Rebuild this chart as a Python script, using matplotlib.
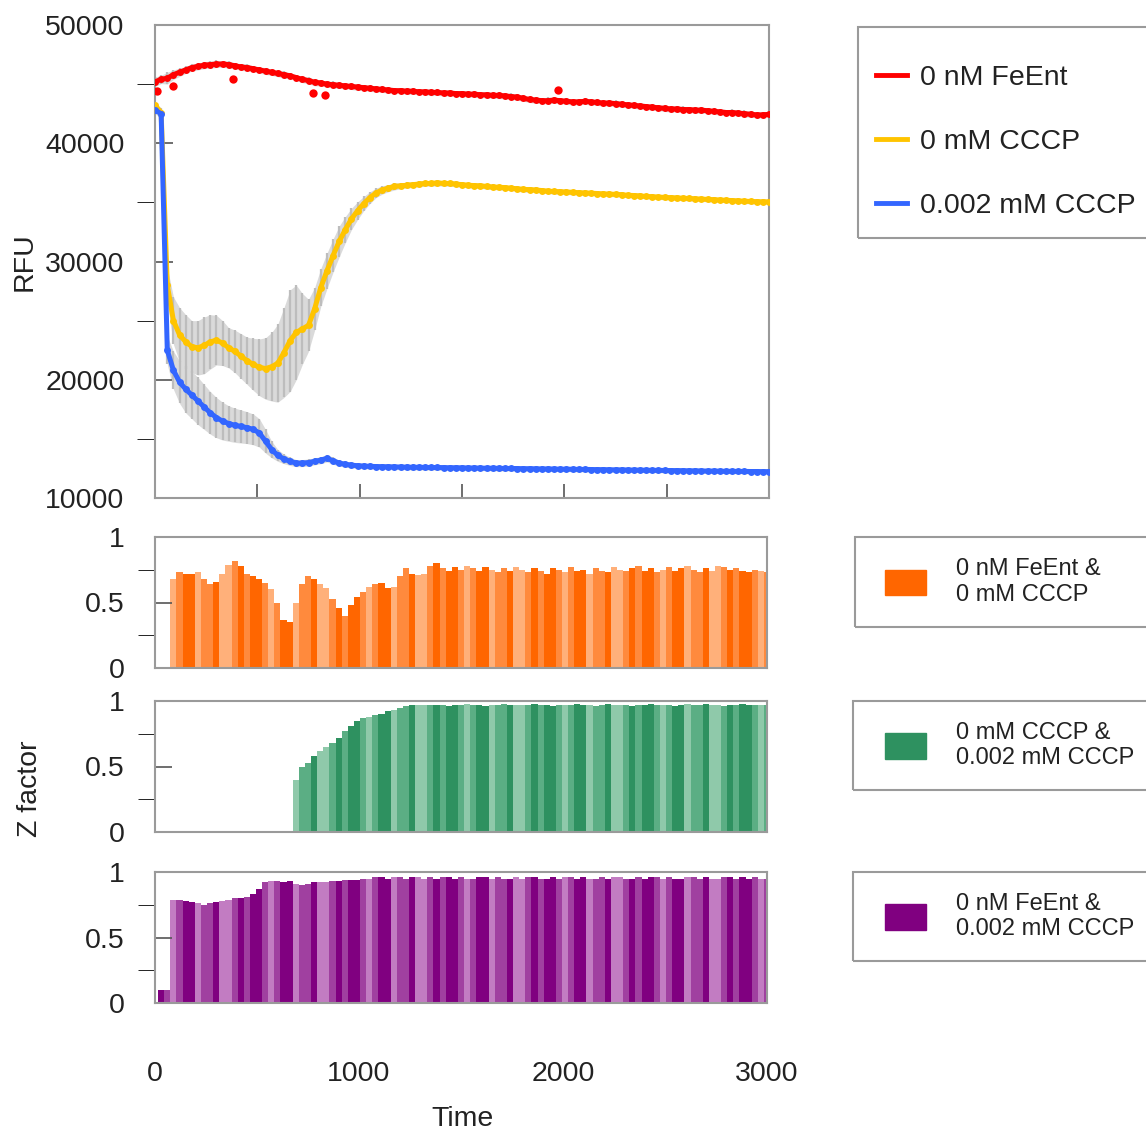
import numpy as np
import matplotlib
matplotlib.use("Agg")
import matplotlib.pyplot as plt
from matplotlib.lines import Line2D
from matplotlib.patches import Patch, Rectangle
from matplotlib.ticker import MultipleLocator

plt.rcParams['font.family'] = ['Liberation Sans', 'DejaVu Sans']

# sampling grid (s)
time = np.arange(0, 3001, 30)

# mean RFU per condition
rfu_feent0 = [45200, 45400, 45500, 45800, 46000, 46200, 46400, 46500, 46600, 46650,
              46700, 46700, 46650, 46550, 46450, 46400, 46300, 46200, 46100, 46000,
              45900, 45800, 45700, 45550, 45400, 45300, 45150, 45100, 45000, 44950,
              44900, 44850, 44800, 44750, 44700, 44650, 44600, 44550, 44500, 44450,
              44450, 44400, 44400, 44350, 44350, 44300, 44300, 44250, 44250, 44200,
              44200, 44150, 44150, 44100, 44100, 44050, 44050, 44000, 43950, 43900,
              43800, 43700, 43650, 43600, 43600, 43650, 43600, 43550, 43500, 43500,
              43550, 43500, 43450, 43400, 43400, 43350, 43300, 43250, 43200, 43150,
              43100, 43050, 43000, 42950, 42900, 42900, 42850, 42850, 42800, 42800,
              42750, 42700, 42650, 42600, 42600, 42550, 42500, 42450, 42400, 42400,
              42450]
rfu_cccp0 = [43200, 42600, 28000, 25000, 23800, 23200, 22800, 22700, 22900, 23200,
             23350, 23100, 22700, 22400, 22000, 21600, 21300, 21050, 20950, 21100,
             21400, 22300, 23300, 24000, 24300, 24600, 26000, 27800, 29200, 30500,
             31700, 32700, 33600, 34300, 34900, 35400, 35800, 36050, 36200, 36350,
             36400, 36450, 36500, 36550, 36600, 36600, 36650, 36600, 36600, 36550,
             36500, 36450, 36420, 36400, 36350, 36300, 36280, 36250, 36200, 36150,
             36100, 36080, 36050, 36000, 35950, 35920, 35900, 35880, 35850, 35820,
             35800, 35780, 35750, 35720, 35700, 35680, 35650, 35600, 35580, 35550,
             35500, 35480, 35450, 35420, 35400, 35380, 35350, 35330, 35300, 35280,
             35250, 35230, 35200, 35180, 35150, 35130, 35100, 35080, 35060, 35050,
             35050]
rfu_cccp2 = [42800, 42500, 22500, 20800, 19800, 19200, 18700, 18200, 17700, 17200,
             16800, 16500, 16300, 16150, 16050, 15950, 15800, 15500, 14800, 14100,
             13600, 13300, 13100, 12950, 12950, 13000, 13100, 13200, 13350, 13150,
             12950, 12850, 12780, 12730, 12700, 12680, 12660, 12650, 12640, 12630,
             12620, 12610, 12600, 12600, 12590, 12580, 12580, 12570, 12560, 12560,
             12550, 12540, 12540, 12530, 12520, 12520, 12510, 12500, 12500, 12490,
             12480, 12480, 12470, 12460, 12460, 12450, 12440, 12440, 12430, 12420,
             12420, 12410, 12400, 12400, 12390, 12380, 12380, 12370, 12360, 12360,
             12350, 12340, 12340, 12330, 12320, 12320, 12310, 12300, 12300, 12290,
             12280, 12280, 12270, 12260, 12260, 12250, 12250, 12240, 12240, 12230,
             12230]

# standard deviations
sd_feent0 = [400, 350, 500, 400, 350, 300, 300, 300, 300, 300,
             300, 280, 300, 260, 280, 300, 250, 270, 290, 260,
             280, 300, 260, 250, 280, 270, 300, 260, 250, 280,
             270, 250, 260, 280, 250, 270, 260, 250, 280, 260,
             250, 270, 260, 250, 260, 280, 250, 260, 270, 250,
             260, 250, 270, 260, 250, 260, 280, 250, 260, 270,
             250, 260, 270, 250, 280, 260, 250, 270, 260, 250,
             260, 270, 250, 260, 250, 270, 260, 250, 260, 270,
             250, 260, 250, 270, 260, 250, 260, 250, 270, 260,
             250, 260, 270, 250, 260, 250, 270, 260, 250, 260,
             250]
sd_cccp0 = [300, 400, 1500, 2000, 2300, 2300, 2200, 2300, 2400, 2300,
            2100, 1900, 1700, 1800, 1900, 2000, 2200, 2400, 2600, 2900,
            3300, 3800, 4300, 4000, 3000, 2200, 1800, 1600, 1500, 1400,
            1300, 1100, 900, 750, 600, 500, 400, 350, 300, 300,
            250, 250, 240, 250, 230, 240, 250, 230, 240, 230,
            220, 230, 240, 220, 230, 220, 230, 220, 210, 220,
            230, 220, 210, 220, 210, 220, 230, 210, 220, 210,
            220, 210, 200, 210, 220, 200, 210, 200, 210, 220,
            200, 210, 200, 210, 200, 220, 210, 200, 210, 200,
            210, 200, 210, 200, 210, 200, 200, 210, 200, 200,
            200]
sd_cccp2 = [300, 400, 1200, 1600, 1800, 2000, 2000, 2000, 1900, 1800,
            1700, 1600, 1500, 1450, 1400, 1350, 1300, 1200, 1000, 700,
            500, 400, 350, 300, 300, 300, 300, 300, 300, 300,
            250, 250, 240, 250, 230, 240, 250, 230, 240, 230,
            220, 230, 240, 220, 230, 220, 230, 220, 210, 220,
            230, 220, 210, 220, 210, 220, 230, 210, 220, 210,
            220, 210, 200, 210, 220, 200, 210, 200, 210, 220,
            200, 210, 200, 210, 200, 220, 210, 200, 210, 200,
            210, 200, 210, 200, 210, 200, 200, 210, 200, 200,
            200, 210, 200, 200, 210, 200, 200, 210, 200, 200,
            200]

# isolated outlying readings of the FeEnt control
out_t = [8, 89, 382, 772, 830, 1970]
out_v = [44400, 44800, 45400, 44250, 44100, 44500]

# Z factor for each pair of conditions
z_feent_cccp0 = [0, 0, 0, 0.68, 0.73, 0.72, 0.72, 0.73, 0.68, 0.64,
                 0.66, 0.72, 0.79, 0.82, 0.78, 0.72, 0.70, 0.68, 0.65, 0.60,
                 0.50, 0.37, 0.35, 0.50, 0.64, 0.70, 0.68, 0.64, 0.61, 0.53,
                 0.46, 0.40, 0.48, 0.54, 0.58, 0.62, 0.64, 0.65, 0.61, 0.62,
                 0.70, 0.76, 0.72, 0.71, 0.72, 0.78, 0.80, 0.76, 0.74, 0.77,
                 0.75, 0.78, 0.76, 0.74, 0.77, 0.75, 0.73, 0.76, 0.74, 0.77,
                 0.75, 0.73, 0.76, 0.74, 0.72, 0.76, 0.75, 0.73, 0.77, 0.74,
                 0.75, 0.72, 0.76, 0.74, 0.73, 0.77, 0.75, 0.74, 0.76, 0.78,
                 0.74, 0.76, 0.73, 0.75, 0.77, 0.74, 0.76, 0.78, 0.75, 0.73,
                 0.76, 0.74, 0.78, 0.77, 0.75, 0.76, 0.74, 0.73, 0.75, 0.74,
                 0.73]
z_cccp0_cccp2 = [0, 0, 0, 0, 0, 0, 0, 0, 0, 0,
                 0, 0, 0, 0, 0, 0, 0, 0, 0, 0,
                 0, 0, 0, 0.40, 0.50, 0.53, 0.58, 0.62, 0.65, 0.68,
                 0.72, 0.77, 0.81, 0.85, 0.87, 0.88, 0.89, 0.90, 0.92, 0.93,
                 0.95, 0.96, 0.97, 0.97, 0.97, 0.97, 0.97, 0.97, 0.96, 0.97,
                 0.97, 0.98, 0.97, 0.97, 0.96, 0.97, 0.97, 0.98, 0.97, 0.97,
                 0.97, 0.97, 0.98, 0.97, 0.97, 0.96, 0.97, 0.97, 0.97, 0.98,
                 0.97, 0.97, 0.96, 0.97, 0.98, 0.97, 0.97, 0.97, 0.96, 0.97,
                 0.97, 0.98, 0.97, 0.97, 0.97, 0.96, 0.97, 0.98, 0.97, 0.97,
                 0.98, 0.97, 0.97, 0.96, 0.97, 0.97, 0.98, 0.97, 0.97, 0.97,
                 0.97]
z_feent_cccp2 = [0, 0.10, 0.10, 0.79, 0.79, 0.78, 0.77, 0.76, 0.75, 0.76,
                 0.77, 0.78, 0.79, 0.80, 0.80, 0.81, 0.83, 0.87, 0.92, 0.93,
                 0.93, 0.92, 0.93, 0.91, 0.90, 0.91, 0.92, 0.92, 0.92, 0.93,
                 0.93, 0.94, 0.94, 0.94, 0.95, 0.95, 0.96, 0.96, 0.95, 0.96,
                 0.96, 0.95, 0.96, 0.96, 0.95, 0.96, 0.95, 0.96, 0.96, 0.95,
                 0.96, 0.95, 0.95, 0.96, 0.96, 0.95, 0.96, 0.95, 0.95, 0.96,
                 0.95, 0.96, 0.96, 0.95, 0.95, 0.96, 0.95, 0.96, 0.96, 0.95,
                 0.96, 0.95, 0.95, 0.96, 0.95, 0.96, 0.96, 0.95, 0.95, 0.96,
                 0.95, 0.96, 0.96, 0.95, 0.96, 0.95, 0.95, 0.96, 0.96, 0.95,
                 0.96, 0.95, 0.95, 0.96, 0.96, 0.95, 0.96, 0.95, 0.96, 0.95,
                 0.95]

line_labels = ['0 nM FeEnt', '0 mM CCCP', '0.002 mM CCCP']
line_colors = ['#FF0000', '#FFC400', '#3366FF']
z_labels = ['0 nM FeEnt &\n0 mM CCCP', '0 mM CCCP &\n0.002 mM CCCP',
            '0 nM FeEnt &\n0.002 mM CCCP']
z_shades = [['#FF6600', '#FF8A3D', '#FFB07A'],
            ['#2E9160', '#5BAE84', '#8FC9AA'],
            ['#800080', '#A040A0', '#C27CC2']]
stripe = [0, 0, 1, 2, 1, 0, 0, 2, 1, 1, 0, 2, 2, 1, 0, 1]

W, H = 1146, 1135
fig = plt.figure(figsize=(W / 100, H / 100), dpi=100)
frame_col = '#9a9a9a'
text_col = '#222222'


def fx(px):
    return px / W


def fy(py):
    return 1 - py / H


def style_axes(ax):
    for s in ax.spines.values():
        s.set_color(frame_col)
        s.set_linewidth(1.5)
    ax.tick_params(direction='in', colors='#555555', labelcolor=text_col,
                   labelsize=20.5, width=1.2)


# RFU panel
ax = fig.add_axes([fx(155), fy(498), fx(769 - 155), (498 - 25) / H])
style_axes(ax)
series = [(rfu_feent0, sd_feent0), (rfu_cccp0, sd_cccp0), (rfu_cccp2, sd_cccp2)]
for (m, sd), c in zip(series, line_colors):
    m = np.array(m)
    sd = np.array(sd)
    ax.fill_between(time, m - sd, m + sd, color='#dadada', lw=0, zorder=1)
    ax.errorbar(time, m, yerr=sd, fmt='none', ecolor='#bdbdbd', elinewidth=1.6,
                capsize=0, zorder=2)
for (m, sd), c in zip(series, line_colors):
    ax.plot(time, m, color=c, lw=3.6, marker='o', ms=5, mew=0, zorder=3)
ax.plot(out_t, out_v, ls='none', marker='o', ms=6, mew=0, color=line_colors[0],
        zorder=3)
ax.set_xlim(0, 3000)
ax.set_ylim(10000, 50000)
ax.yaxis.set_major_locator(MultipleLocator(10000))
ax.yaxis.set_minor_locator(MultipleLocator(5000))
ax.xaxis.set_major_locator(MultipleLocator(500))
ax.tick_params(axis='y', which='both', length=13, pad=22)
ax.tick_params(axis='x', length=10, labelbottom=False)

# Z factor panels
z_sets = [z_feent_cccp0, z_cccp0_cccp2, z_feent_cccp2]
panel_tops = [537, 701, 872]
z_axes = []
for z, shades, top in zip(z_sets, z_shades, panel_tops):
    zax = fig.add_axes([fx(155), fy(top + 131), fx(767 - 155), 131 / H])
    style_axes(zax)
    cols = [shades[stripe[i % len(stripe)]] for i in range(len(time))]
    zax.bar(time, z, width=30, color=cols, linewidth=0, align='center')
    zax.set_xlim(0, 3000)
    zax.set_ylim(0, 1)
    zax.set_yticks([0, 0.5, 1])
    zax.set_yticklabels(['0', '0.5', '1'])
    zax.yaxis.set_minor_locator(MultipleLocator(0.25))
    zax.tick_params(axis='y', which='both', length=12, pad=22)
    zax.set_xticks([0, 1000, 2000, 3000])
    zax.tick_params(axis='x', length=0, labelbottom=False)
    z_axes.append(zax)
z_axes[-1].tick_params(axis='x', labelbottom=True, pad=42)

fig.text(fx(25), fy(262), 'RFU', rotation=90, ha='center', va='center',
         fontsize=20.5, color=text_col)
fig.text(fx(30), fy(789), 'Z factor', rotation=90, ha='center', va='center',
         fontsize=20.5, color=text_col)
fig.text(fx(462), fy(1119), 'Time', ha='center', va='center',
         fontsize=20.5, color=text_col)

# legend for the RFU traces
fig.add_artist(Rectangle((fx(858), fy(238)), fx(300), (238 - 27) / H,
                         transform=fig.transFigure, fill=False, ec=frame_col, lw=1.5))
handles = [Line2D([], [], color=c, lw=3.5) for c in line_colors]
fig.legend(handles, line_labels, loc='center left', bbox_to_anchor=(fx(876), fy(142)),
           frameon=False, fontsize=20.5, handlelength=1.1, handletextpad=0.45,
           labelspacing=1.35, borderpad=0, borderaxespad=0, labelcolor=text_col)

# legends for the Z factor panels
box_spans = [(855, 537, 627), (853, 701, 790), (853, 872, 961)]
for lab, shades, (x0, y0, y1) in zip(z_labels, z_shades, box_spans):
    fig.add_artist(Rectangle((fx(x0), fy(y1)), fx(320), (y1 - y0) / H,
                             transform=fig.transFigure, fill=False, ec=frame_col,
                             lw=1.5))
    fig.legend([Patch(color=shades[0])], [lab], loc='center left',
               bbox_to_anchor=(fx(885), fy((y0 + y1) / 2)), frameon=False,
               fontsize=17, handlelength=1.75, handleheight=1.3, handletextpad=1.25,
               borderpad=0, borderaxespad=0, labelcolor=text_col)

fig.savefig('out.png', dpi=100)
